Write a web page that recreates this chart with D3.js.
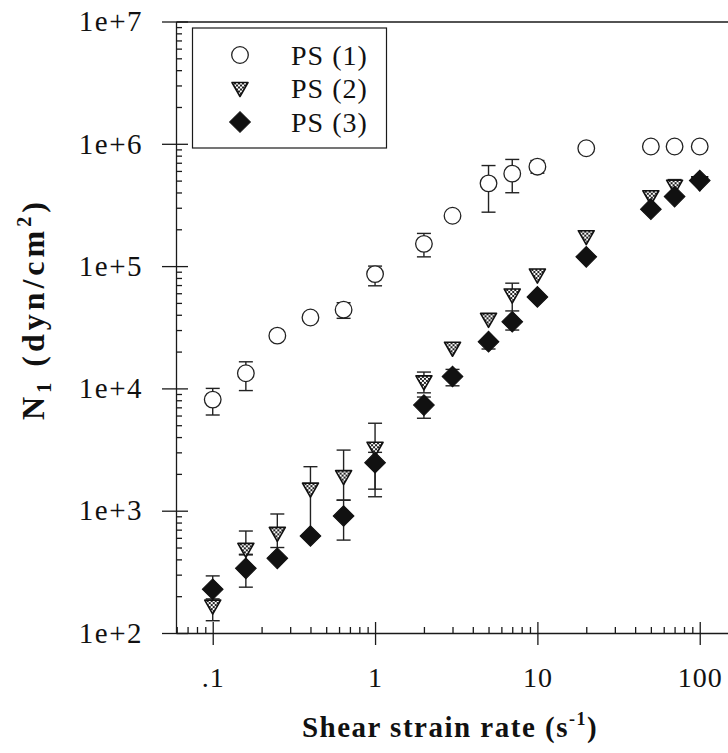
<!DOCTYPE html>
<html>
<head>
<meta charset="utf-8">
<script src="https://cdn.jsdelivr.net/npm/d3@7"></script>
<style>
  body { margin: 0; background: #fff; }
  svg text { font-family: "Liberation Serif", "Times New Roman", serif; fill: #111; }
</style>
</head>
<body>
<div id="chart"></div>
<script>
// shear strain rates (1/s), shared by the three samples
const rates = [0.1, 0.16, 0.25, 0.4, 0.64, 1, 2, 3, 5, 7, 10, 20, 50, 70, 100];

// N1 (dyn/cm2) with error bar ends (null = no visible bar)
const ps1   = [8.1e3, 1.33e4, 2.7e4, 3.8e4, 4.4e4, 8.6e4, 1.52e5, 2.58e5, 4.75e5, 5.7e5, 6.5e5, 9.2e5, 9.5e5, 9.5e5, 9.5e5];
const ps1Lo = [6.06e3, 9.6e3, null, null, 3.74e4, 6.9e4, 1.19e5, null, 2.76e5, 3.98e5, 5.75e5, null, null, null, null];
const ps1Hi = [1.0e4, 1.65e4, null, null, 5.02e4, 1.0e5, 1.85e5, null, 6.64e5, 7.45e5, 7.3e5, null, null, null, null];

const ps2   = [166, 483, 653, 1.5e3, 1.9e3, 3.24e3, 1.13e4, 2.13e4, 3.67e4, 5.8e4, 8.45e4, 1.74e5, 3.69e5, 4.5e5, 4.8e5];
const ps2Lo = [126, 435, 500, 650, 1.22e3, 1.5e3, 9.2e3, null, null, 4.3e4, null, null, null, null, null];
const ps2Hi = [220, 682, 940, 2.29e3, 3.13e3, 5.19e3, 1.36e4, null, null, 7.25e4, null, null, null, 5.1e5, null];

const ps3   = [228, 338, 408, 621, 905, 2.47e3, 7.3e3, 1.25e4, 2.41e4, 3.51e4, 5.6e4, 1.19e5, 2.92e5, 3.7e5, 5.0e5];
const ps3Lo = [190, 237, null, null, 575, 1.3e3, 5.7e3, 1.05e4, 2.1e4, 3.0e4, null, null, null, null, null];
const ps3Hi = [293, 440, null, null, 1.22e3, 3.0e3, 8.5e3, 1.43e4, null, null, null, null, null, null, null];

const seriesNames = ["PS (1)", "PS (2)", "PS (3)"];
const xMajor = [0.1, 1, 10, 100];
const xTickLabels = [".1", "1", "10", "100"];
const yMajor = [1e2, 1e3, 1e4, 1e5, 1e6, 1e7];
const yTickLabels = ["1e+2", "1e+3", "1e+4", "1e+5", "1e+6", "1e+7"];

const W = 728, H = 753;
const ink = "#1a1a1a";

const svg = d3.select("#chart").append("svg")
    .attr("width", W).attr("height", H);

// checker fill for the PS (2) triangles
const defs = svg.append("defs");
const pat = defs.append("pattern").attr("id", "checker")
    .attr("width", 4).attr("height", 4).attr("patternUnits", "userSpaceOnUse");
pat.append("rect").attr("width", 4).attr("height", 4).attr("fill", "#fff");
pat.append("rect").attr("width", 2).attr("height", 2).attr("fill", "#222");
pat.append("rect").attr("x", 2).attr("y", 2).attr("width", 2).attr("height", 2).attr("fill", "#222");

// scales: plot runs past the right edge of the picture (cropped figure)
const x = d3.scaleLog().domain([0.0594, 200]).range([176, 748.6]);
const y = d3.scaleLog().domain([1e2, 1e7]).range([633, 21.5]);

const xMinor = x.ticks().filter(v => !xMajor.some(m => Math.abs(m - v) < 1e-9));
const yMinor = y.ticks().filter(v => !yMajor.includes(v));

function styleAxis(g) {
    g.selectAll("path, line").attr("stroke", ink).attr("stroke-width", 1.3);
    g.selectAll("text").style("font-family", '"Liberation Serif", "Times New Roman", serif').attr("fill", ink);
}

// ---- x axis ----
svg.append("g")
    .attr("transform", `translate(0,${y(1e2)})`)
    .call(d3.axisBottom(x).tickValues(xMajor).tickSize(12).tickSizeOuter(0).tickPadding(22)
        .tickFormat((d, i) => xTickLabels[i]))
    .call(styleAxis)
    .call(g => g.selectAll("text").attr("font-size", 28).style("letter-spacing", "1px"));

svg.append("g")
    .attr("transform", `translate(0,${y(1e2)})`)
    .call(d3.axisTop(x).tickValues(xMajor).tickSize(11).tickFormat(""))
    .call(g => g.select(".domain").remove())
    .call(styleAxis);

svg.append("g")
    .attr("transform", `translate(0,${y(1e2)})`)
    .call(d3.axisTop(x).tickValues(xMinor).tickSize(6).tickFormat(""))
    .call(g => g.select(".domain").remove())
    .call(styleAxis);

// top frame line
svg.append("g")
    .attr("transform", `translate(0,${y(1e7)})`)
    .call(d3.axisTop(x).tickValues([]).tickSizeOuter(0))
    .call(styleAxis);

// ---- y axis ----
svg.append("g")
    .attr("transform", `translate(${x.range()[0]},0)`)
    .call(d3.axisLeft(y).tickValues(yMajor).tickSize(14).tickSizeOuter(0).tickPadding(19)
        .tickFormat((d, i) => yTickLabels[i]))
    .call(styleAxis)
    .call(g => g.selectAll("text").attr("font-size", 29).style("letter-spacing", "1.5px"));

svg.append("g")
    .attr("transform", `translate(${x.range()[0]},0)`)
    .call(d3.axisRight(y).tickValues(yMajor).tickSize(12).tickFormat(""))
    .call(g => g.select(".domain").remove())
    .call(styleAxis);

svg.append("g")
    .attr("transform", `translate(${x.range()[0]},0)`)
    .call(d3.axisRight(y).tickValues(yMinor).tickSize(6).tickFormat(""))
    .call(g => g.select(".domain").remove())
    .call(styleAxis);

// ---- axis titles ----
const xTitle = svg.append("text")
    .attr("x", 450).attr("y", 737)
    .attr("text-anchor", "middle")
    .attr("font-size", 29).attr("font-weight", "bold")
    .style("letter-spacing", "1.5px");
xTitle.append("tspan").text("Shear strain rate (s");
xTitle.append("tspan").attr("font-size", 18).attr("dy", -12).text("-1");
xTitle.append("tspan").attr("dy", 12).text(")");

const yTitle = svg.append("text")
    .attr("transform", "translate(44,309) rotate(-90)")
    .attr("text-anchor", "middle")
    .attr("font-size", 32).attr("font-weight", "bold")
    .style("letter-spacing", "4px");
yTitle.append("tspan").text("N");
yTitle.append("tspan").attr("font-size", 20).attr("dy", 7).text("1");
yTitle.append("tspan").attr("dy", -7).text(" (dyn/cm");
yTitle.append("tspan").attr("font-size", 20).attr("dy", -13).text("2");
yTitle.append("tspan").attr("dy", 13).text(")");

// ---- markers ----
const triPath = "M-8,-6L8,-6L0,8Z";
const diamond = d3.symbol().type(d3.symbolSquare).size(215)();

const series = [
    { name: seriesNames[0], vals: ps1, lo: ps1Lo, hi: ps1Hi, kind: "circle" },
    { name: seriesNames[1], vals: ps2, lo: ps2Lo, hi: ps2Hi, kind: "triangle" },
    { name: seriesNames[2], vals: ps3, lo: ps3Lo, hi: ps3Hi, kind: "diamond" }
];

function drawMarker(g, kind) {
    if (kind === "circle") {
        g.append("circle").attr("r", 8.3).attr("fill", "#fff")
            .attr("stroke", "#222").attr("stroke-width", 1.3);
    } else if (kind === "triangle") {
        g.append("path").attr("d", triPath).attr("fill", "url(#checker)")
            .attr("stroke", "#111").attr("stroke-width", 1.6).attr("stroke-linejoin", "round");
    } else {
        g.append("path").attr("d", diamond).attr("transform", "rotate(45)")
            .attr("fill", "#111").attr("stroke", "#111").attr("stroke-width", 1);
    }
}

const plot = svg.append("g");

// error bars first, markers on top
series.forEach(s => {
    const rows = rates.map((r, i) => ({ r, v: s.vals[i], lo: s.lo[i], hi: s.hi[i] }));
    const eb = plot.append("g").attr("stroke", "#222").attr("stroke-width", 1.4);
    rows.forEach(d => {
        const cx = x(d.r);
        [d.lo, d.hi].forEach(end => {
            if (end == null) return;
            eb.append("line").attr("x1", cx).attr("x2", cx)
                .attr("y1", y(d.v)).attr("y2", y(end));
            eb.append("line").attr("x1", cx - 7).attr("x2", cx + 7)
                .attr("y1", y(end)).attr("y2", y(end));
        });
    });
});

series.forEach(s => {
    const rows = rates.map((r, i) => ({ r, v: s.vals[i] }));
    plot.append("g").selectAll("g")
        .data(rows)
        .join("g")
        .attr("transform", d => `translate(${x(d.r)},${y(d.v)})`)
        .each(function() { drawMarker(d3.select(this), s.kind); });
});

// ---- legend ----
const legend = svg.append("g");
legend.append("rect")
    .attr("x", 192.5).attr("y", 28).attr("width", 194).attr("height", 120)
    .attr("fill", "#fff").attr("stroke", ink).attr("stroke-width", 1.2);

series.forEach((s, i) => {
    const row = legend.append("g").attr("transform", `translate(240,${55 + i * 33.5})`);
    drawMarker(row, s.kind);
    row.append("text").attr("x", 51).attr("y", 9.5)
        .attr("font-size", 28).style("letter-spacing", "1px")
        .text(s.name);
});
</script>
</body>
</html>
